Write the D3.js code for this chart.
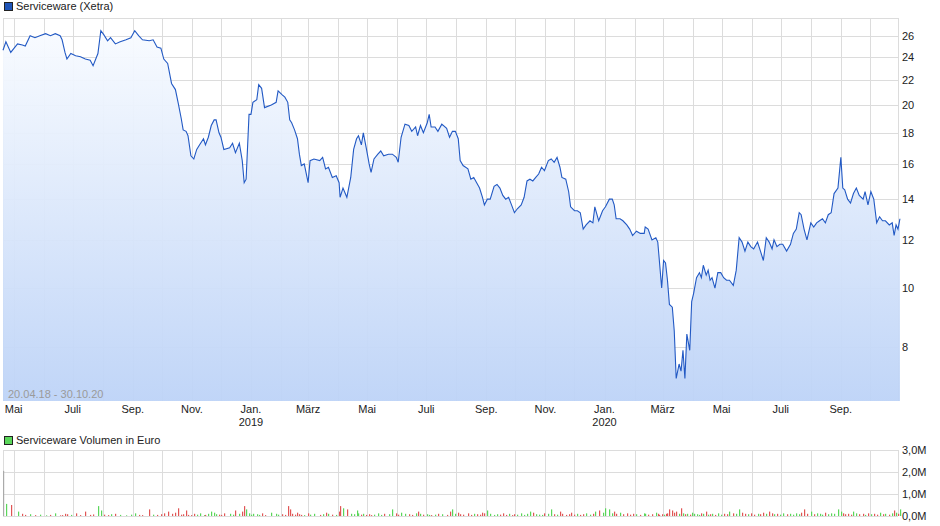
<!DOCTYPE html>
<html><head><meta charset="utf-8">
<script src="https://cdn.jsdelivr.net/npm/d3@7"></script>
<style>
body { margin:0; background:#fff; font-family:"Liberation Sans", Arial, sans-serif; }
text { font-family:"Liberation Sans", Arial, sans-serif; }
</style></head>
<body><div class="canvas"></div>
<script>
// price: [days since 20.04.2018, close in EUR]
var priceData = [
[0,24.6],[3,25.4],[8,24.4],[15,25.2],[20,25.1],[23,25.0],[28,26.0],[33,25.8],[38,26.0],[44,26.2],
[49,26.0],[54,26.2],[59,26.0],[61,25.6],[64,24.4],[66,23.8],[70,24.3],[75,24.1],[80,24.0],[85,23.8],
[90,23.7],[93,23.2],[98,24.3],[101,26.5],[104,26.1],[108,25.5],[111,25.8],[116,25.2],[121,25.4],[127,25.6],
[132,25.8],[136,26.5],[140,26.0],[144,25.6],[151,25.5],[155,25.6],[159,24.9],[163,24.8],[166,23.8],[170,23.4],
[174,21.7],[178,21.2],[181,20.1],[184,19.0],[186,18.2],[189,18.1],[191,17.8],[194,16.5],[197,16.3],[200,16.9],
[203,17.2],[207,17.6],[209,17.2],[212,17.7],[215,18.5],[218,18.9],[220,18.9],[223,18.0],[225,17.7],[228,16.9],
[234,17.0],[237,17.3],[240,16.7],[244,17.3],[247,16.2],[249,14.9],[251,15.1],[254,19.3],[256,19.3],[258,20.2],
[262,20.4],[264,21.6],[267,21.3],[270,19.8],[277,20.0],[282,20.2],[284,21.1],[288,20.8],[291,20.6],[294,20.2],
[296,18.9],[298,18.7],[301,18.2],[304,17.6],[306,16.6],[308,15.9],[311,16.0],[315,14.9],[317,16.2],[321,16.3],
[327,16.2],[330,16.4],[333,15.7],[336,15.8],[340,15.2],[344,15.3],[347,14.9],[348,14.1],[351,14.6],[355,14.1],
[359,15.2],[362,16.9],[365,17.6],[367,17.8],[370,17.2],[372,18.0],[375,17.0],[378,16.0],[380,15.5],[383,16.3],
[387,16.6],[390,16.8],[393,16.5],[398,16.6],[402,16.6],[406,16.4],[408,16.1],[411,17.7],[415,18.6],[419,18.5],
[422,18.1],[426,18.4],[428,17.8],[431,18.5],[434,18.0],[438,18.7],[440,19.3],[442,18.4],[446,18.4],[449,18.1],
[453,18.6],[458,18.3],[461,17.7],[464,18.1],[467,18.1],[470,17.6],[472,16.2],[475,15.9],[480,15.7],[483,15.1],
[486,15.2],[489,14.9],[492,14.6],[495,14.1],[497,13.7],[500,14.0],[503,14.0],[507,14.7],[510,14.8],[513,14.6],
[516,14.2],[519,14.0],[522,14.1],[525,13.7],[528,13.3],[531,13.5],[535,13.7],[538,14.1],[541,15.0],[544,15.1],
[547,15.0],[550,15.2],[553,15.4],[556,15.8],[559,15.6],[563,16.2],[566,16.3],[569,16.1],[572,16.4],[575,15.8],
[577,15.2],[581,15.1],[584,14.4],[586,13.6],[590,13.4],[593,13.4],[596,13.3],[599,12.5],[602,12.7],[606,12.9],
[609,12.8],[611,13.6],[615,12.9],[619,13.4],[622,13.6],[626,14.0],[629,14.0],[631,13.7],[633,13.0],[637,13.0],
[640,12.9],[644,12.7],[647,12.5],[650,12.2],[654,12.4],[658,12.3],[662,12.3],[663,12.6],[666,12.5],[670,12.0],
[674,12.1],[676,11.9],[677,11.4],[680,10.0],[682,11.1],[684,11.0],[686,10.3],[688,9.4],[691,9.3],[693,8.5],
[695,7.1],[698,7.5],[700,7.3],[702,7.9],[704,7.1],[706,8.4],[709,7.9],[711,9.5],[713,9.8],[716,10.4],
[719,10.6],[721,10.4],[723,10.9],[726,10.5],[728,10.7],[730,10.3],[732,10.4],[735,10.0],[738,10.6],[741,10.6],
[744,10.4],[747,10.3],[750,10.3],[754,10.1],[757,10.7],[760,12.1],[763,11.9],[766,11.5],[769,11.9],[772,11.7],
[775,11.6],[779,11.9],[782,11.5],[785,11.1],[788,12.1],[791,11.9],[794,11.6],[796,12.0],[799,11.7],[802,11.8],
[805,11.8],[809,11.5],[813,11.8],[816,12.3],[819,12.5],[822,13.3],[824,13.2],[827,12.5],[830,12.0],[834,12.8],
[837,12.6],[840,12.8],[843,12.9],[846,13.0],[849,12.8],[852,13.2],[855,13.3],[858,14.3],[862,14.6],[865,16.4],
[867,14.6],[869,14.5],[872,14.0],[875,13.8],[878,14.3],[881,14.6],[884,14.2],[888,14.0],[890,14.4],[893,13.7],
[896,14.4],[899,14.0],[902,12.8],[905,13.1],[908,12.9],[911,12.9],[915,12.7],[918,12.8],[920,12.2],[922,12.7],
[924,12.5],[926,13.0]
];
// volume in million EUR, one per price point
var volumeData = [
2.05,0.55,0.5,0.2,0.1,0.05,0.08,0.04,0.06,0.03,0.05,0.12,0.03,0.04,0.1,0.08,0.05,0.12,0.04,0.2,
0.05,0.07,0.45,0.25,0.06,0.04,0.08,0.1,0.05,0.03,0.06,0.12,0.05,0.04,0.3,0.06,0.05,0.08,0.12,0.2,
0.1,0.15,0.35,0.06,0.08,0.25,0.05,0.04,0.1,0.06,0.12,0.04,0.05,0.1,0.2,0.15,0.08,0.06,0.05,0.12,
0.1,0.06,0.25,0.1,0.2,0.45,0.3,0.12,0.06,0.1,0.08,0.05,0.12,0.04,0.15,0.1,0.06,0.08,0.05,0.45,
0.3,0.1,0.06,0.15,0.08,0.05,0.04,0.12,0.06,0.1,0.05,0.08,0.15,0.1,0.06,0.05,0.2,0.45,0.35,0.3,
0.1,0.08,0.25,0.12,0.06,0.1,0.05,0.08,0.04,0.06,0.12,0.05,0.1,0.08,0.3,0.12,0.06,0.15,0.1,0.08,
0.05,0.12,0.2,0.1,0.06,0.08,0.05,0.04,0.06,0.1,0.08,0.05,0.2,0.3,0.1,0.15,0.08,0.06,0.12,0.05,
0.1,0.08,0.06,0.15,0.12,0.25,0.1,0.05,0.08,0.06,0.12,0.05,0.1,0.04,0.08,0.06,0.12,0.05,0.1,0.2,
0.15,0.08,0.06,0.05,0.12,0.1,0.3,0.08,0.06,0.2,0.1,0.05,0.08,0.15,0.06,0.1,0.05,0.08,0.12,0.06,
0.1,0.2,0.25,0.15,0.35,0.3,0.12,0.2,0.1,0.15,0.08,0.12,0.06,0.1,0.08,0.05,0.12,0.1,0.06,0.08,
0.15,0.1,0.05,0.08,0.06,0.1,0.12,0.3,0.25,0.15,0.2,0.1,0.35,0.12,0.08,0.1,0.06,0.15,0.1,0.08,
0.05,0.12,0.1,0.2,0.06,0.08,0.1,0.05,0.12,0.06,0.1,0.08,0.2,0.12,0.1,0.3,0.15,0.1,0.08,0.12,
0.06,0.1,0.08,0.15,0.1,0.2,0.12,0.08,0.1,0.06,0.12,0.08,0.1,0.06,0.12,0.08,0.15,0.3,0.1,0.2,
0.08,0.12,0.1,0.06,0.15,0.08,0.12,0.1,0.3,0.2,0.12,0.08,0.1,0.06,0.2,0.12,0.08,0.1,0.05,0.12,
0.08,0.1,0.06,0.15,0.08,0.1,0.06,0.12,0.25,0.15,0.1,0.3
];
var priceTicks = [8, 10, 12, 14, 16, 18, 20, 22, 24, 26];
var volumeTicks = [0, 1, 2, 3];
var monthNames = ["Jan.", "Feb.", "März", "Apr.", "Mai", "Juni", "Juli", "Aug.", "Sep.", "Okt.", "Nov.", "Dez."];
var startDate = new Date(2018, 3, 20);
var rangeLabel = "20.04.18 - 30.10.20";

var W = 940, H = 526;
var left = 3, right = 898;
var pTop = 18, pBottom = 401;
var vTop = 450, vBottom = 516;

function dayToDate(d) { return new Date(startDate.getTime() + d * 86400000); }
var pts = priceData.map(function (d) { return { date: dayToDate(d[0]), v: d[1] }; });

var svg = d3.select(".canvas").append("svg").attr("width", W).attr("height", H);

var x = d3.scaleTime().domain([startDate, new Date(2020, 9, 30)]).range([left, right]);
var y = d3.scaleLog().domain([6.52, 27.8]).range([pBottom, pTop]);
var yv = d3.scaleLinear().domain([0, 3]).range([vBottom, vTop]);

var months = d3.timeMonth.range(new Date(2018, 4, 1), new Date(2020, 10, 1));

// gradient
var grad = svg.append("defs").append("linearGradient").attr("id", "fillGrad")
    .attr("x1", 0).attr("y1", 0).attr("x2", 0).attr("y2", 1);
grad.append("stop").attr("offset", "0%").attr("stop-color", "#f8fbff");
grad.append("stop").attr("offset", "100%").attr("stop-color", "#bdd3f7");

// grid
var grid = svg.append("g").attr("stroke", "#dcdcdc").attr("stroke-width", 1);
months.forEach(function (m) {
    var xx = Math.round(x(m)) + 0.5;
    grid.append("line").attr("x1", xx).attr("x2", xx).attr("y1", pTop).attr("y2", pBottom);
    grid.append("line").attr("x1", xx).attr("x2", xx).attr("y1", vTop).attr("y2", vBottom);
});
priceTicks.forEach(function (t) {
    var yy = Math.round(y(t)) + 0.5;
    grid.append("line").attr("x1", left).attr("x2", right).attr("y1", yy).attr("y2", yy);
});
volumeTicks.forEach(function (t) {
    var yy = Math.round(yv(t)) + 0.5;
    grid.append("line").attr("x1", left).attr("x2", right).attr("y1", yy).attr("y2", yy);
});
grid.append("line").attr("x1", left + 0.5).attr("x2", left + 0.5).attr("y1", pTop).attr("y2", pBottom);
grid.append("line").attr("x1", right + 0.5).attr("x2", right + 0.5).attr("y1", pTop).attr("y2", pBottom);
grid.append("line").attr("x1", left).attr("x2", right).attr("y1", pTop + 0.5).attr("y2", pTop + 0.5);
grid.append("line").attr("x1", left + 0.5).attr("x2", left + 0.5).attr("y1", vTop).attr("y2", vBottom);
grid.append("line").attr("x1", right + 0.5).attr("x2", right + 0.5).attr("y1", vTop).attr("y2", vBottom);

// area + line
var area = d3.area().x(function (d) { return x(d.date); }).y0(pBottom).y1(function (d) { return y(d.v); });
var line = d3.line().x(function (d) { return x(d.date); }).y(function (d) { return y(d.v); });
svg.append("path").datum(pts).attr("fill", "url(#fillGrad)").attr("opacity", 0.95).attr("d", area);
svg.append("path").datum(pts).attr("fill", "none").attr("stroke", "#2259c4").attr("stroke-width", 1.1).attr("d", line);

// axis labels
priceTicks.forEach(function (t) {
    svg.append("text").attr("x", 902).attr("y", y(t) + 4).attr("font-size", 11).attr("fill", "#222").text(t);
});
volumeTicks.forEach(function (t) {
    svg.append("text").attr("x", 902).attr("y", yv(t) + 4).attr("font-size", 11).attr("fill", "#222")
        .text(t.toFixed(1).replace(".", ",") + "M");
});

// x labels every two months
months.forEach(function (m) {
    if (m.getMonth() % 2 !== 0) return;
    svg.append("text").attr("x", x(m)).attr("y", 413).attr("text-anchor", "middle")
        .attr("font-size", 11).attr("fill", "#222").text(monthNames[m.getMonth()]);
    if (m.getMonth() === 0) {
        svg.append("text").attr("x", x(m)).attr("y", 426).attr("text-anchor", "middle")
            .attr("font-size", 11).attr("fill", "#222").text(m.getFullYear());
    }
});

svg.append("text").attr("x", 8).attr("y", 398).attr("font-size", 11).attr("fill", "#9a9a9a").text(rangeLabel);

// volume bars
var vol = svg.append("g");
volumeData.forEach(function (v, i) {
    if (i >= pts.length) return;
    var col = i === 0 ? "#aaaaaa" : (pts[i].v >= pts[i - 1].v ? "#5ad65a" : "#e05555");
    var xx = Math.round(x(pts[i].date));
    vol.append("rect").attr("x", xx).attr("width", 1.2).attr("y", yv(v)).attr("height", vBottom - yv(v)).attr("fill", col);
});

// legends
svg.append("rect").attr("x", 4.5).attr("y", 2.5).attr("width", 8).attr("height", 8).attr("fill", "#1f55b8").attr("stroke", "#222");
svg.append("text").attr("x", 16).attr("y", 10).attr("font-size", 11).attr("fill", "#222").text("Serviceware (Xetra)");
svg.append("rect").attr("x", 4.5).attr("y", 436.5).attr("width", 8).attr("height", 8).attr("fill", "#5ad65a").attr("stroke", "#222");
svg.append("text").attr("x", 16).attr("y", 444).attr("font-size", 11).attr("fill", "#222").text("Serviceware Volumen in Euro");
</script>
</body></html>
